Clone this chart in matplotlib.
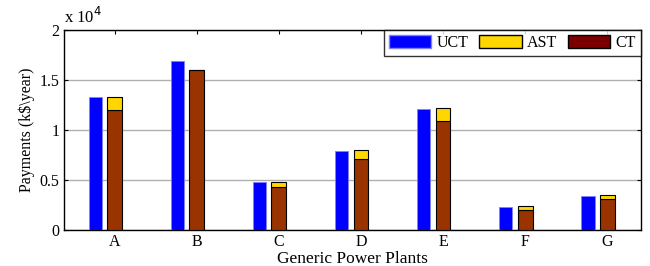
import matplotlib
matplotlib.use("Agg")
import matplotlib.pyplot as plt
from matplotlib.patches import Patch
import numpy as np

plants = ['A', 'B', 'C', 'D', 'E', 'F', 'G']
uct = [13270, 16900, 4750, 7870, 12060, 2310, 3350]
ct = [11960, 16000, 4300, 7100, 10900, 2000, 3080]
ast = [1330, 0, 500, 840, 1260, 380, 340]

plt.rcParams['font.family'] = ['Liberation Serif', 'DejaVu Serif']
plt.rcParams['font.size'] = 11.5

fig = plt.figure(figsize=(6.5, 2.66), dpi=100)
ax = fig.add_axes([0.098, 0.137, 0.888, 0.75])

x = np.arange(1, len(plants) + 1)
ax.bar(x - 0.235, np.array(uct) / 1e4, width=0.16, color='#0000ff',
       edgecolor='#8080ff', linewidth=0.6, zorder=3)
ax.bar(x, np.array(ct) / 1e4, width=0.18, color='#993300',
       edgecolor='black', linewidth=0.8, zorder=3)
ax.bar(x, np.array(ast) / 1e4, bottom=np.array(ct) / 1e4, width=0.18,
       color='#ffd700', edgecolor='black', linewidth=0.8, zorder=3)

ax.set_xlim(0.38, 7.41)
ax.set_ylim(0, 2)
ax.set_xticks(x)
ax.set_xticklabels(plants)
ax.set_yticks([0, 0.5, 1, 1.5, 2])
ax.set_yticklabels(['0', '0.5', '1', '1.5', '2'])
ax.tick_params(direction='in', length=3, top=True, right=True, width=0.8, pad=3)
ax.yaxis.grid(True, color='#b0b0b0', linewidth=1.0, zorder=0)
for s in ax.spines.values():
    s.set_linewidth(1.0)

ax.set_xlabel('Generic Power Plants', fontsize=12.5, labelpad=1)
ax.set_ylabel(r'Payments (k\$\year)', fontsize=11.5, labelpad=3)
ax.text(0.0, 1.015, r'x 10$^4$', transform=ax.transAxes, ha='left', va='bottom',
        fontsize=12)

handles = [Patch(facecolor='#0000ff', edgecolor='#8080ff', label='UCT'),
           Patch(facecolor='#ffd700', edgecolor='black', label='AST'),
           Patch(facecolor='#7a0000', edgecolor='black', label='CT')]
leg = ax.legend(handles=handles, loc='upper right', ncol=3, frameon=True,
                fancybox=False, edgecolor='black', borderaxespad=0.0,
                handlelength=2.65, handleheight=0.85, columnspacing=0.65,
                handletextpad=0.35, borderpad=0.3)
leg.get_frame().set_linewidth(1.0)

fig.savefig('out.png', dpi=100)
